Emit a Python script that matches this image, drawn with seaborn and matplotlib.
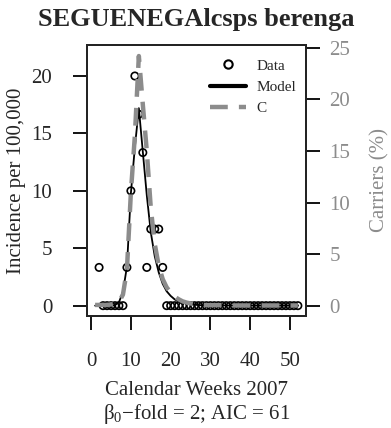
import numpy as np
import pandas as pd
import seaborn as sns
import matplotlib
matplotlib.use("Agg")
import matplotlib.pyplot as plt
from matplotlib.lines import Line2D

sns.set_theme(style="white")
plt.rcParams['font.family'] = ['Liberation Serif', 'DejaVu Serif']
plt.rcParams['mathtext.fontset'] = 'custom'
plt.rcParams['mathtext.rm'] = 'Liberation Serif'

# observed incidence (per 100,000), weeks 2-52
data_weeks = list(range(2, 53))
incidence = [3.33, 0, 0, 0, 0, 0, 0, 3.33, 10.0, 20.0, 16.67, 13.33, 3.33,
             6.67, 6.67, 6.67, 3.33] + [0] * 34

# model fit and carriers, weeks 1-52
weeks = list(range(1, 53))
model = [0, 0, 0, 0, 0, 0.05, 0.3, 1.2, 3.4, 9.8, 13.8, 17.2, 13.4, 9.6,
         6.4, 4.3, 2.9, 1.9, 1.25, 0.85, 0.55, 0.38, 0.26, 0.18, 0.12, 0.08,
         0.05, 0.03] + [0.02] * 6 + [0.01] * 18
carriers = [0.1, 0.1, 0.1, 0.1, 0.15, 0.2, 0.4, 1.1, 3.5, 11.0, 16.5, 24.2,
            19.5, 15.0, 9.5, 6.0, 3.9, 2.6, 1.8, 1.3, 0.9, 0.65, 0.45, 0.33,
            0.25, 0.18, 0.14, 0.1] + [0.08] * 6 + [0.05] * 18

obs = pd.DataFrame({"week": data_weeks, "inc": incidence})
fit = pd.DataFrame({"week": weeks, "model": model, "C": carriers})

grey = "#8c8c8c"
fs = 15

fig = plt.figure(figsize=(3.91, 4.28), dpi=100)
ax = fig.add_axes([0.2225, 0.2617, 0.5601, 0.6332])

sns.scatterplot(data=obs, x="week", y="inc", ax=ax, marker="o", s=28,
                facecolor="none", edgecolor="black", linewidth=1.2, zorder=3)
sns.lineplot(data=fit, x="week", y="model", ax=ax, color="black", lw=1.3, zorder=2)

ax.set_xlim(-1.04, 54.04)
ax.set_ylim(-0.9, 22.7)
ax.set_xticks([0, 10, 20, 30, 40, 50])
ax.set_yticks([0, 5, 10, 15, 20])
ax.tick_params(axis="x", direction="out", length=10, width=1.3,
               labelsize=fs, color="black", bottom=True, pad=16)
ax.tick_params(axis="y", direction="out", length=10, width=1.3,
               labelsize=fs, color="black", left=True, pad=15)
ax.set_xlabel("Calendar Weeks 2007\n\u03b2$_0$\u2212fold = 2; AIC = 61",
              fontsize=fs, labelpad=7, linespacing=1.15)
ax.set_ylabel("Incidence per 100,000", fontsize=fs, labelpad=4)
for sp in ax.spines.values():
    sp.set_color("black")
    sp.set_linewidth(1.3)

ax2 = ax.twinx()
sns.lineplot(data=fit, x="week", y="C", ax=ax2, color=grey, lw=3.2, zorder=4)
ax2.lines[0].set_dashes([4, 2.5])
ax2.set_ylim(-0.97, 25.27)
ax2.set_yticks([0, 5, 10, 15, 20, 25])
ax2.tick_params(axis="y", direction="out", length=10, width=1.3, right=True,
                labelsize=fs, labelcolor=grey, color="black", pad=7)
ax2.set_ylabel("Carriers (%)", fontsize=fs, color=grey, labelpad=14)
ax2.set_xlabel("")
ax2.spines["right"].set_linewidth(1.3)

ax.set_title("SEGUENEGAlcsps berenga", fontsize=19, fontweight="bold", pad=14)

handles = [
    Line2D([], [], marker="o", ls="none", mfc="none", mec="black", mew=1.5, ms=6),
    Line2D([], [], color="black", lw=3),
    Line2D([], [], color=grey, lw=3.2, dashes=[4, 2.5]),
]
ax2.legend(handles, ["Data", "Model", "C"], loc="upper right", frameon=False,
           fontsize=11, handlelength=2.3, handletextpad=0.7, labelspacing=0.5,
           borderaxespad=0.25, bbox_to_anchor=(1.0, 0.985))

fig.savefig("out.png", dpi=100)
